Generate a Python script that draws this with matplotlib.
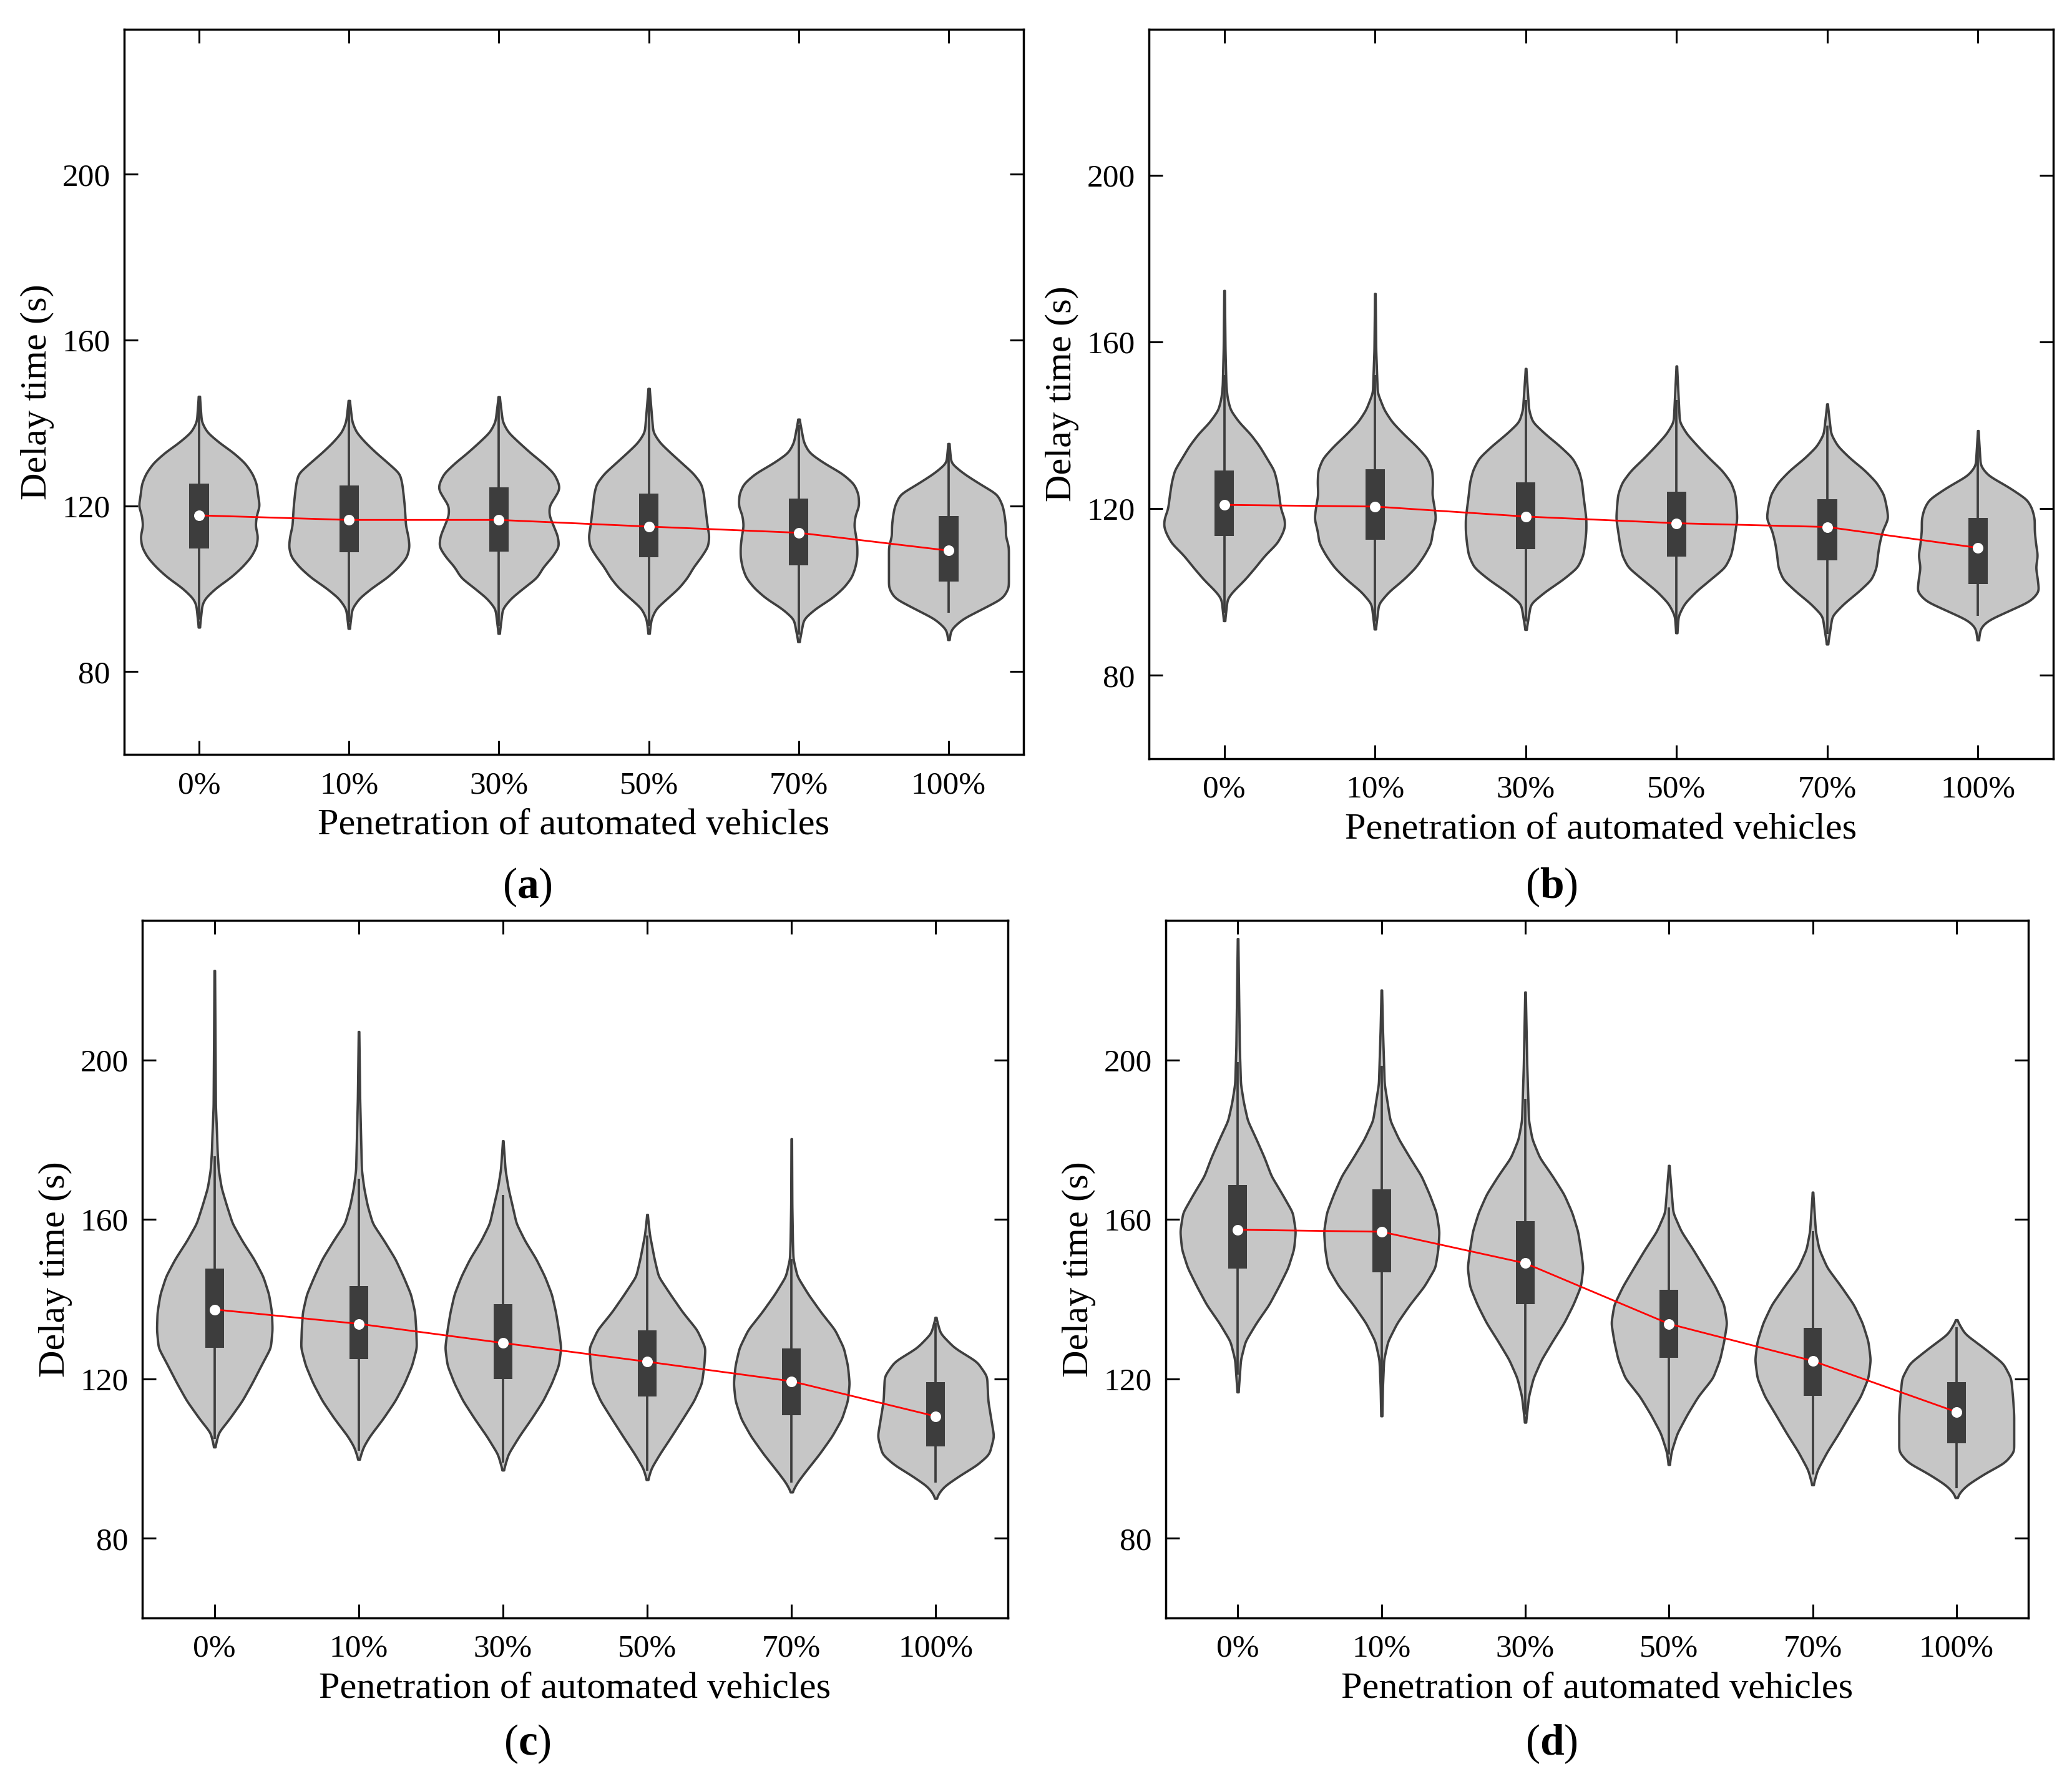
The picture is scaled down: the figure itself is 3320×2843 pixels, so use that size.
import numpy as np
import matplotlib
matplotlib.use("Agg")
import matplotlib.pyplot as plt

plt.rcParams['font.family'] = ['Liberation Serif', 'DejaVu Serif']
plt.rcParams['mathtext.fontset'] = 'custom'
plt.rcParams['mathtext.rm'] = 'Liberation Serif'
plt.rcParams['mathtext.bf'] = 'Liberation Serif:bold'

# ---------------- data ----------------
CATEGORIES = ['0%', '10%', '30%', '50%', '70%', '100%']
Y_TICKS = [80, 120, 160, 200]
X_LABEL = 'Penetration of automated vehicles'
Y_LABEL = 'Delay time (s)'
PANEL_LABELS = ['a', 'b', 'c', 'd']

# Panel (a)
A_MEDIAN = [117.7, 116.6, 116.6, 115.0, 113.5, 109.2]
A_Q1 = [109.7, 108.8, 108.9, 107.6, 105.7, 101.7]
A_Q3 = [125.3, 124.9, 124.4, 122.9, 121.7, 117.5]
A_WLO = [92.5, 92.0, 91.0, 91.0, 89.0, 94.2]
A_WHI = [145.0, 144.0, 145.0, 147.0, 139.5, 133.5]
A_Y = [
    [90.7, 96.2, 97.7, 100.2, 102.7, 105.2, 107.7, 110.2, 112.7, 115.2, 117.7, 120, 122.8, 125.3, 127.8, 130.3, 132.8, 135.3, 137.8, 140.3, 146.4],
    [90.4, 95.2, 97.7, 100.2, 102.7, 105.2, 107.7, 110.2, 112.7, 115.2, 117.7, 120, 122.8, 125.3, 127.8, 130.3, 132.8, 135.3, 137.8, 140.3, 145.4],
    [89.2, 95.2, 97.7, 100.2, 102.7, 105.2, 107.7, 110.2, 112.7, 115.2, 117.7, 120, 121.8, 124, 125.3, 127.8, 130.3, 132.8, 135.3, 137.8, 140.3, 146.3],
    [89.2, 92.7, 95.2, 97.7, 100.2, 102.7, 105.2, 107.7, 110.2, 112.7, 115.2, 117.7, 120, 122.8, 125.3, 127.8, 130.3, 132.8, 135.3, 137.8, 148.3],
    [87.2, 92.7, 95.2, 97.7, 100.2, 102.7, 105.2, 107.7, 110.2, 112.7, 115.2, 117.7, 120, 122.8, 125.3, 127.8, 130.3, 132.8, 135.3, 140.9],
    [87.7, 90.2, 92.7, 95.2, 97.7, 100.2, 102.7, 105.2, 107.7, 110.2, 112.7, 115.2, 117.7, 120, 122.8, 125.3, 127.8, 130.3, 135.0],
]
A_W = [
    [0.01, 0.05, 0.1, 0.28, 0.52, 0.71, 0.86, 0.95, 0.97, 0.93, 0.95, 1.0, 0.97, 0.95, 0.88, 0.76, 0.57, 0.33, 0.13, 0.04, 0.01],
    [0.01, 0.05, 0.17, 0.38, 0.63, 0.82, 0.96, 1.0, 0.98, 0.94, 0.93, 0.92, 0.9, 0.88, 0.84, 0.65, 0.45, 0.27, 0.12, 0.05, 0.01],
    [0.01, 0.06, 0.2, 0.41, 0.63, 0.73, 0.88, 0.99, 0.97, 0.9, 0.83, 0.83, 0.91, 1.0, 0.99, 0.91, 0.73, 0.52, 0.33, 0.15, 0.06, 0.01],
    [0.01, 0.04, 0.12, 0.31, 0.5, 0.64, 0.74, 0.87, 0.98, 1.0, 0.97, 0.95, 0.93, 0.91, 0.87, 0.74, 0.55, 0.36, 0.18, 0.07, 0.01],
    [0.01, 0.08, 0.27, 0.53, 0.72, 0.85, 0.91, 0.94, 0.94, 0.92, 0.89, 0.91, 0.97, 0.96, 0.89, 0.7, 0.41, 0.17, 0.08, 0.01],
    [0.01, 0.04, 0.23, 0.57, 0.9, 1.0, 1.0, 1.0, 1.0, 1.0, 0.95, 0.95, 0.93, 0.9, 0.81, 0.52, 0.25, 0.04, 0.01],
]

# Panel (b)
B_MEDIAN = [120.9, 120.5, 118.1, 116.5, 115.6, 110.6]
B_Q1 = [113.5, 112.6, 110.3, 108.5, 107.6, 101.9]
B_Q3 = [129.2, 129.5, 126.3, 124.0, 122.2, 117.8]
B_WLO = [95.0, 93.0, 93.0, 92.0, 90.0, 94.3]
B_WHI = [152.0, 152.0, 146.0, 146.0, 140.0, 137.0]
B_Y = [
    [93.1, 98.4, 100.1, 103, 105.9, 108.8, 111.7, 114.1, 115.8, 117.6, 120, 123.4, 126.3, 129.2, 132.1, 135, 137.9, 140.8, 143.7, 146.6, 149.5, 158.3, 172.3],
    [91.1, 97.2, 100.1, 103, 105.9, 108.8, 111.7, 114.7, 117.6, 120, 123.4, 126.3, 129.2, 132.1, 135, 137.9, 140.8, 143.7, 147.8, 158, 171.6],
    [91.0, 97.2, 100.1, 103, 105.9, 108.8, 111.7, 114.7, 117.6, 120, 123.4, 126.3, 129.2, 132.1, 135, 137.9, 140.8, 143.7, 153.6],
    [90.2, 94.3, 97.2, 100.1, 103, 105.9, 108.8, 111.7, 114.7, 117.6, 120, 123.4, 126.3, 129.2, 132.1, 135, 137.9, 140.8, 154.2],
    [87.5, 94.3, 97.2, 100.1, 103, 105.9, 108.8, 111.7, 114.7, 117.6, 120, 123.4, 126.3, 129.2, 132.1, 135, 137.9, 145.1],
    [88.5, 91.4, 93.2, 95.5, 97.8, 100.1, 103, 105.9, 108.8, 111.7, 114.7, 117.6, 120, 122.2, 125.1, 128, 130.3, 138.7],
]
B_W = [
    [0.01, 0.05, 0.14, 0.34, 0.51, 0.67, 0.87, 0.96, 1.0, 0.99, 0.93, 0.9, 0.87, 0.82, 0.7, 0.58, 0.43, 0.24, 0.1, 0.05, 0.03, 0.015, 0.005],
    [0.01, 0.06, 0.23, 0.47, 0.67, 0.81, 0.92, 0.95, 1.0, 0.98, 0.94, 0.95, 0.94, 0.86, 0.68, 0.47, 0.28, 0.15, 0.04, 0.015, 0.005],
    [0.01, 0.08, 0.32, 0.61, 0.85, 0.94, 0.97, 0.99, 0.99, 0.97, 0.94, 0.92, 0.87, 0.77, 0.56, 0.32, 0.11, 0.05, 0.005],
    [0.01, 0.03, 0.13, 0.32, 0.56, 0.8, 0.9, 0.94, 0.97, 1.0, 0.99, 0.97, 0.9, 0.75, 0.54, 0.35, 0.17, 0.05, 0.005],
    [0.01, 0.08, 0.27, 0.51, 0.72, 0.8, 0.82, 0.85, 0.9, 0.99, 0.97, 0.92, 0.8, 0.61, 0.37, 0.17, 0.06, 0.005],
    [0.01, 0.04, 0.16, 0.5, 0.84, 0.98, 0.96, 0.93, 0.96, 0.93, 0.91, 0.91, 0.87, 0.79, 0.5, 0.16, 0.04, 0.005],
]

# Panel (c)
C_MEDIAN = [137.4, 133.8, 129.0, 124.3, 119.4, 110.6]
C_Q1 = [127.8, 124.9, 120.0, 115.5, 110.9, 103.1]
C_Q3 = [147.6, 143.2, 138.8, 132.1, 127.7, 119.2]
C_WLO = [105.0, 102.0, 99.0, 97.0, 94.0, 94.0]
C_WHI = [175.9, 170.2, 166.1, 156.0, 150.0, 134.0]
C_Y = [
    [102.9, 106.5, 110, 114.5, 118.9, 123.4, 127.8, 132.3, 136.7, 141.2, 145.7, 150.1, 154.6, 159, 163.5, 167.9, 172.4, 176.8, 181.3, 188.4, 222.4],
    [99.8, 102.9, 105.6, 110, 114.5, 118.9, 123.4, 127.8, 132.3, 136.7, 141.2, 145.7, 150.1, 154.6, 159, 163.5, 167.9, 172.4, 190.2, 207.1],
    [97.1, 101.1, 105.6, 110, 114.5, 118.9, 123.4, 127.8, 132.3, 136.7, 141.2, 145.7, 150.1, 154.6, 159, 163.5, 167.9, 172.4, 179.7],
    [94.7, 97.6, 101.1, 105.6, 110, 114.5, 118.9, 123.4, 127.8, 132.3, 136.7, 141.2, 145.7, 150.1, 156.3, 161.2],
    [91.6, 94, 96.7, 101.1, 105.6, 110, 114.5, 118.9, 123.4, 127.8, 132.3, 136.7, 141.2, 145.7, 150.1, 154.6, 163.5, 180.2],
    [90.0, 91.3, 93.1, 95.8, 98.4, 101.1, 105.6, 110, 114.5, 120.7, 124.3, 127.8, 131.4, 135.4],
]
C_W = [
    [0.01, 0.07, 0.26, 0.48, 0.65, 0.81, 0.97, 1.0, 0.99, 0.94, 0.84, 0.68, 0.48, 0.31, 0.21, 0.12, 0.07, 0.05, 0.04, 0.02, 0.005],
    [0.01, 0.08, 0.19, 0.42, 0.63, 0.79, 0.92, 1.0, 0.99, 0.97, 0.9, 0.77, 0.63, 0.44, 0.24, 0.15, 0.09, 0.05, 0.02, 0.005],
    [0.01, 0.09, 0.28, 0.49, 0.69, 0.84, 0.96, 1.0, 0.96, 0.91, 0.84, 0.72, 0.57, 0.38, 0.23, 0.16, 0.09, 0.04, 0.005],
    [0.01, 0.07, 0.21, 0.41, 0.6, 0.79, 0.92, 0.96, 0.98, 0.84, 0.6, 0.39, 0.19, 0.12, 0.04, 0.005],
    [0.01, 0.1, 0.24, 0.48, 0.7, 0.87, 0.97, 1.0, 0.97, 0.9, 0.75, 0.51, 0.29, 0.1, 0.03, 0.02, 0.01, 0.005],
    [0.01, 0.05, 0.15, 0.42, 0.71, 0.92, 1.0, 0.95, 0.9, 0.88, 0.71, 0.32, 0.08, 0.005],
]

# Panel (d)
D_MEDIAN = [157.4, 156.9, 149.0, 133.8, 124.5, 111.7]
D_Q1 = [147.6, 146.7, 138.8, 125.3, 115.8, 103.9]
D_Q3 = [168.6, 167.5, 159.6, 142.3, 132.8, 119.1]
D_WLO = [121.0, 113.0, 111.0, 101.0, 96.0, 92.5]
D_WHI = [199.5, 198.6, 190.3, 163.0, 157.0, 133.0]
D_Y = [
    [116.7, 124.8, 129.4, 134.0, 138.6, 143.2, 147.9, 152.5, 157.0, 161.7, 166.3, 170.9, 175.5, 180.1, 184.8, 189.4, 194, 203.2, 230.4],
    [110.7, 118.0, 124.8, 129.4, 134.0, 138.6, 143.2, 147.9, 152.5, 157.0, 161.7, 166.3, 170.9, 175.5, 180.1, 184.8, 189.4, 194, 207.8, 217.5],
    [109.1, 115.6, 120.2, 124.8, 129.4, 134.0, 138.6, 143.2, 147.9, 152.5, 157.0, 161.7, 166.3, 170.9, 175.5, 180.1, 184.8, 198.6, 217.0],
    [98.5, 101.7, 106.3, 111.0, 115.6, 120.2, 124.8, 129.4, 134.0, 138.6, 143.2, 147.9, 152.5, 157.0, 161.7, 173.5],
    [93.4, 97.1, 101.7, 106.3, 111.0, 115.6, 120.2, 124.8, 129.4, 134.0, 138.6, 143.2, 147.9, 152.5, 157.0, 166.8],
    [90.2, 91.6, 93.4, 96.2, 99.0, 101.7, 106.3, 111.0, 115.6, 120.2, 123.9, 127.6, 131.3, 134.8],
]
D_W = [
    [0.01, 0.05, 0.13, 0.32, 0.54, 0.71, 0.87, 0.97, 1.0, 0.95, 0.77, 0.58, 0.46, 0.32, 0.17, 0.1, 0.05, 0.03, 0.005],
    [0.01, 0.02, 0.04, 0.11, 0.27, 0.49, 0.74, 0.93, 0.98, 1.0, 0.95, 0.83, 0.69, 0.49, 0.3, 0.15, 0.1, 0.05, 0.02, 0.005],
    [0.01, 0.06, 0.14, 0.28, 0.47, 0.67, 0.83, 0.96, 1.0, 0.96, 0.91, 0.81, 0.67, 0.47, 0.25, 0.12, 0.06, 0.03, 0.005],
    [0.01, 0.04, 0.14, 0.31, 0.5, 0.75, 0.87, 0.94, 0.99, 0.94, 0.79, 0.6, 0.41, 0.21, 0.07, 0.005],
    [0.01, 0.08, 0.25, 0.45, 0.64, 0.83, 0.96, 1.0, 0.96, 0.86, 0.71, 0.49, 0.25, 0.11, 0.05, 0.005],
    [0.01, 0.06, 0.18, 0.47, 0.81, 0.96, 0.96, 0.96, 0.94, 0.91, 0.78, 0.47, 0.14, 0.005],
]

PANELS = [
    dict(label='a', y=A_Y, w=A_W, med=A_MEDIAN, q1=A_Q1, q3=A_Q3, lo=A_WLO, hi=A_WHI),
    dict(label='b', y=B_Y, w=B_W, med=B_MEDIAN, q1=B_Q1, q3=B_Q3, lo=B_WLO, hi=B_WHI),
    dict(label='c', y=C_Y, w=C_W, med=C_MEDIAN, q1=C_Q1, q3=C_Q3, lo=C_WLO, hi=C_WHI),
    dict(label='d', y=D_Y, w=D_W, med=D_MEDIAN, q1=D_Q1, q3=D_Q3, lo=D_WLO, hi=D_WHI),
]

# ---------------- layout / style ----------------
W_PX, H_PX = 3320, 2843
DPI = 100
AX_RECTS = [  # left, bottom, right, top in figure fractions
    (0.0599, 0.5747, 0.4940, 0.9835),
    (0.5545, 0.5723, 0.9910, 0.9835),
    (0.0687, 0.0879, 0.4864, 0.4812),
    (0.5627, 0.0879, 0.9789, 0.4812),
]
LABEL_POS = [(0.2545, 0.4998), (0.7487, 0.4998), (0.2545, 0.0169), (0.7487, 0.0169)]

FILL = '#c6c6c6'
EDGE = '#3f3f3f'
BOXC = '#3d3d3d'


def smooth_profile(ys, ws):
    ys = np.asarray(ys, float)
    ws = np.asarray(ws, float)
    grid = np.linspace(ys[0], ys[-1], 600)
    vals = np.interp(grid, ys, ws)
    step = grid[1] - grid[0]
    sig = 0.7 / step
    k = np.arange(-int(4 * sig), int(4 * sig) + 1)
    ker = np.exp(-0.5 * (k / sig) ** 2)
    ker /= ker.sum()
    padded = np.concatenate([np.full(len(k) // 2, vals[0]), vals, np.full(len(k) // 2, vals[-1])])
    sm = np.convolve(padded, ker, mode='valid')
    return grid, sm


fig = plt.figure(figsize=(W_PX / DPI, H_PX / DPI), dpi=DPI)
positions = np.arange(len(CATEGORIES))

for p, rect, lpos in zip(PANELS, AX_RECTS, LABEL_POS):
    l, b, r, t = rect
    ax = fig.add_axes([l, b, r - l, t - b])
    stats = []
    for ys, ws, m in zip(p['y'], p['w'], p['med']):
        g, v = smooth_profile(ys, ws)
        stats.append(dict(coords=g, vals=v, mean=m, median=m, min=g[0], max=g[-1]))
    parts = ax.violin(stats, positions=positions, widths=0.8,
                      showmeans=False, showextrema=False, showmedians=False)
    for body in parts['bodies']:
        body.set_facecolor(FILL)
        body.set_edgecolor(EDGE)
        body.set_linewidth(2.7)
        body.set_alpha(1)
        body.set_zorder(1)
    ax.vlines(positions, p['lo'], p['hi'], color=BOXC, lw=2.7, zorder=2)
    q1 = np.array(p['q1'])
    q3 = np.array(p['q3'])
    ax.bar(positions, q3 - q1, bottom=q1, width=0.13, color=BOXC, zorder=3)
    ax.plot(positions, p['med'], color='#ff0000', lw=2.0, zorder=4)
    ax.scatter(positions, p['med'], s=150, color='white', zorder=5, linewidths=0)

    ax.set_xlim(-0.5, 5.5)
    ax.set_ylim(60, 235)
    ax.set_xticks(positions)
    ax.set_xticklabels(CATEGORIES)
    ax.set_yticks(Y_TICKS)
    ax.tick_params(direction='in', length=16, width=2.2, top=True, right=True,
                   labelsize=37, colors='black')
    ax.tick_params(axis='x', pad=19)
    ax.tick_params(axis='y', pad=16)
    for s in ax.spines.values():
        s.set_linewidth(2.5)
        s.set_color('black')
    ax.set_xlabel(X_LABEL, fontsize=43.5, labelpad=10)
    ax.set_ylabel(Y_LABEL, fontsize=43.5, labelpad=9)
    fig.text(lpos[0], lpos[1], r'($\mathbf{%s}$)' % p['label'], fontsize=50,
             ha='center', va='center')

fig.savefig('out.png', dpi=DPI)
